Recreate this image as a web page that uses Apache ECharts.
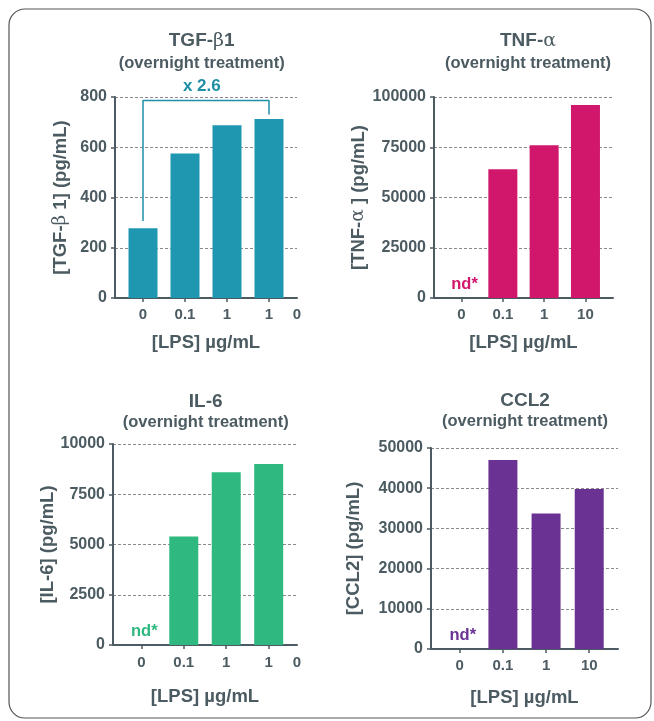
<!DOCTYPE html>
<html><head><meta charset="utf-8">
<script src="https://cdn.jsdelivr.net/npm/echarts@6/dist/echarts.min.js"></script>
<style>html,body{margin:0;padding:0;background:#fff}#c{width:654px;height:721px}</style>
</head><body><div id="c"></div>
<script>
// ---- data ----
const lpsLabels = ['0', '0.1', '1', '10'];
const lpsLabelsTruncated = ['0', '0.1', '1', '1', '0']; // "10" split in the original export
const tgfValues = [278, 575, 688, 712];
const tnfValues = [null, 64000, 76000, 96000];
const il6Values = [null, 5400, 8600, 9000];
const ccl2Values = [null, 47000, 33700, 39800];
const tgfTicks = [0, 200, 400, 600, 800];
const tnfTicks = [0, 25000, 50000, 75000, 100000];
const il6Ticks = [0, 2500, 5000, 7500, 10000];
const ccl2Ticks = [0, 10000, 20000, 30000, 40000, 50000];

const TXT = '#4b5b61';
const FONT = '"Liberation Sans", Arial, sans-serif';
const SERIF = '"DejaVu Serif", "Liberation Serif", serif';

const pos = i => 2 + 3 * i;           // category slot on the 0..13 axis
const tickPos = [0, 1, 2, 3].map(pos);

const panels = [
  { grid: {left: 115, top: 97, width: 182, height: 201}, values: tgfValues, labels: lpsLabelsTruncated,
    ticks: tgfTicks, color: '#1f97b1', yName: '{m|[TGF-}{g|β}{m| 1] (pg/mL)}', yGap: 45, xGap: 35, lblMargin: 9,
    title: ['{m|TGF-}{g|β}{m|1}', 201.7, 30, 22] },
  { grid: {left: 434, top: 97, width: 179, height: 201}, values: tnfValues, labels: lpsLabels,
    ticks: tnfTicks, color: '#d0176b', yName: '{m|[TNF-}{g|α}{m| ] (pg/mL)}', yGap: 66, xGap: 35, lblMargin: 9,
    title: ['{m|TNF-}{g|α}', 528, 30, 22] },
  { grid: {left: 113, top: 444, width: 184, height: 201}, values: il6Values, labels: lpsLabelsTruncated,
    ticks: il6Ticks, color: '#2fb87f', yName: '{m|[IL-6] (pg/mL)}', yGap: 56, xGap: 42, lblMargin: 10,
    title: ['{m|IL-6}', 205.7, 391, 21] },
  { grid: {left: 431, top: 448, width: 187, height: 201}, values: ccl2Values, labels: lpsLabels,
    ticks: ccl2Ticks, color: '#6a3393', yName: '{m|[CCL2] (pg/mL)}', yGap: 68, xGap: 39, lblMargin: 9,
    title: ['{m|CCL2}', 525, 390, 21] }
];

const grids = [], xAxes = [], yAxes = [], series = [], titles = [];
const HIDDEN = {color: 'rgba(0,0,0,0)', opacity: 1};

panels.forEach((p, k) => {
  grids.push(Object.assign({containLabel: false}, p.grid));
  const labelPos = p.labels.length === 5 ? tickPos.concat([13]) : tickPos;
  const labelMap = {};
  labelPos.forEach((v, i) => { labelMap[v] = p.labels[i]; });
  xAxes.push({
    type: 'value', gridIndex: k, min: 0, max: 13,
    axisLine: {show: true, lineStyle: {color: TXT, width: 2}},
    splitLine: {show: false},
    axisTick: {show: true, customValues: tickPos, length: 4, lineStyle: {color: TXT, width: 1.5}},
    axisLabel: {customValues: labelPos, formatter: v => labelMap[v] || '', margin: p.lblMargin,
      color: TXT, fontFamily: FONT, fontWeight: 'bold', fontSize: 15, showMinLabel: true, showMaxLabel: true},
    name: '[LPS] µg/mL', nameLocation: 'middle', nameGap: p.xGap, nameMoveOverlap: false,
    nameTextStyle: {color: TXT, fontFamily: FONT, fontWeight: 'bold', fontSize: 18.5}
  });
  const t = p.ticks;
  yAxes.push({
    type: 'value', gridIndex: k, min: t[0], max: t[t.length - 1], interval: t[1] - t[0],
    axisLine: {show: true, lineStyle: {color: TXT, width: 2}},
    axisTick: {show: true, length: 4, lineStyle: {color: TXT, width: 1.5}},
    splitLine: {show: true, lineStyle: {color: '#8a8a8a', type: [3, 2], width: 1}},
    axisLabel: {color: TXT, fontFamily: FONT, fontWeight: 'bold', fontSize: 16, margin: 8,
      formatter: v => String(v)},
    name: p.yName, nameLocation: 'middle', nameGap: p.yGap, nameMoveOverlap: false,
    nameTextStyle: {color: TXT, rich: {
      m: {fontFamily: FONT, fontWeight: 'bold', fontSize: 18.5, color: TXT},
      g: {fontFamily: SERIF, fontWeight: 'normal', fontSize: 18.5, color: TXT}
    }}
  });
  series.push({
    type: 'bar', xAxisIndex: k, yAxisIndex: k, barWidth: 29,
    itemStyle: {color: p.color},
    data: p.values.map((v, i) => [pos(i), v])
  });
  const nd = p.values.map((v, i) => v === null ? [pos(i), 0] : null).filter(Boolean);
  if (nd.length) {
    series.push({
      type: 'scatter', xAxisIndex: k, yAxisIndex: k, symbolSize: 1, itemStyle: HIDDEN,
      silent: true, data: nd, z: 5,
      label: {show: true, position: 'top', distance: 5, offset: [3, 0], formatter: 'nd*', opacity: 1,
        color: p.color, fontFamily: FONT, fontWeight: 'bold', fontSize: 16.5}
    });
  }
  const [tt, tx, ty, lh] = p.title;
  titles.push({
    text: tt + '\n{s|(overnight treatment)}', left: tx, top: ty, textAlign: 'center', padding: 0,
    textStyle: {
      rich: {
        m: {fontFamily: FONT, fontWeight: 'bold', fontSize: 19, color: TXT, lineHeight: lh},
        g: {fontFamily: SERIF, fontWeight: 'normal', fontSize: 19, color: TXT, lineHeight: lh},
        s: {fontFamily: FONT, fontWeight: 'bold', fontSize: 16.5, color: TXT, lineHeight: lh}
      }
    }
  });
});

// fold-change bracket on the TGF-β1 panel
const bracketTop = 786;
const fold = (tgfValues[3] / tgfValues[0]).toFixed(1);
series.push({
  type: 'line', xAxisIndex: 0, yAxisIndex: 0, symbol: 'none', silent: true,
  lineStyle: {color: '#1f8fa6', width: 1.5},
  data: [[pos(0), tgfValues[0] + 28], [pos(0), bracketTop], [pos(3), bracketTop], [pos(3), tgfValues[3] + 18]]
});
series.push({
  type: 'scatter', xAxisIndex: 0, yAxisIndex: 0, symbolSize: 1, itemStyle: HIDDEN, silent: true, z: 5,
  data: [[(pos(0) + pos(3)) / 2 - 0.3, bracketTop]],
  label: {show: true, position: 'top', distance: 5, formatter: 'x ' + fold, opacity: 1,
    color: '#1f8fa6', fontFamily: FONT, fontWeight: 'bold', fontSize: 17}
});

const chart = echarts.init(document.getElementById('c'), null, {renderer: 'canvas'});
chart.setOption({
  animation: false,
  backgroundColor: '#fff',
  title: titles,
  grid: grids,
  xAxis: xAxes,
  yAxis: yAxes,
  series: series,
  graphic: [{
    type: 'rect', shape: {x: 9, y: 9, width: 642, height: 709, r: 16},
    style: {fill: 'none', stroke: '#555', lineWidth: 1.2}, silent: true, z: -1
  }]
});
</script>
</body></html>
